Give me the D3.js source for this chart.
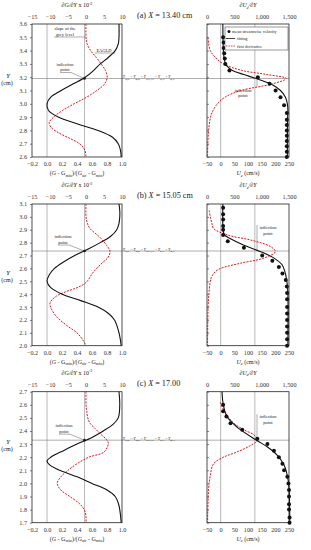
<!DOCTYPE html>
<html>
<head>
<meta charset="utf-8">
<script src="https://cdn.jsdelivr.net/npm/d3@7"></script>
<style>
body { margin: 0; background: #fff; }
text { font-family: "Liberation Serif", "DejaVu Serif", serif; fill: #222; }
</style>
</head>
<body>
<svg id="fig" width="311" height="550"></svg>
<script>
// ---- data ----
const titles = ['(a) X = 13.40 cm', '(b) X = 15.05 cm', '(c) X = 17.00'];
const yDomains = [[2.6, 3.6], [2.0, 3.1], [1.7, 2.7]];
const yTicksA = [2.6, 2.7, 2.8, 2.9, 3.0, 3.1, 3.2, 3.3, 3.4, 3.5, 3.6];
const yTicksB = [2.0, 2.1, 2.2, 2.3, 2.4, 2.5, 2.6, 2.7, 2.8, 2.9, 3.0, 3.1];
const yTicksC = [1.7, 1.8, 1.9, 2.0, 2.1, 2.2, 2.3, 2.4, 2.5, 2.6, 2.7];
const inflections = [3.19, 2.735, 2.33];

const grayTicks = [-0.2, 0.0, 0.2, 0.4, 0.6, 0.8, 1.0];
const slopeTicks = [-15, -10, -5, 0, 5, 10];
const velTicks = [-50, 0, 50, 100, 150, 200, 250];
const dvelTicks = [0, 500, 1000, 1500];

// [Y, normalised grey level]
const grayA = [[3.6, 0.96], [3.5, 0.96], [3.45, 0.95], [3.4, 0.91], [3.35, 0.82], [3.3, 0.71], [3.25, 0.62], [3.2, 0.51], [3.15, 0.35], [3.1, 0.19], [3.05, 0.05], [3.0, 0.0], [2.95, 0.02], [2.9, 0.15], [2.85, 0.4], [2.8, 0.68], [2.75, 0.87], [2.7, 0.95], [2.65, 0.98], [2.6, 0.99]];
const grayB = [[3.1, 0.96], [3.05, 0.97], [3.0, 0.97], [2.95, 0.96], [2.9, 0.93], [2.85, 0.85], [2.8, 0.71], [2.75, 0.55], [2.7, 0.37], [2.65, 0.22], [2.6, 0.1], [2.55, 0.03], [2.5, 0.0], [2.45, 0.05], [2.4, 0.2], [2.35, 0.45], [2.3, 0.68], [2.25, 0.82], [2.2, 0.9], [2.1, 0.96], [2.0, 0.99]];
const grayC = [[2.7, 0.96], [2.6, 0.97], [2.5, 0.95], [2.45, 0.88], [2.4, 0.75], [2.35, 0.6], [2.3, 0.4], [2.25, 0.22], [2.2, 0.05], [2.17, 0.0], [2.14, 0.04], [2.1, 0.17], [2.05, 0.4], [2.0, 0.6], [1.95, 0.8], [1.9, 0.91], [1.85, 0.95], [1.8, 0.97], [1.7, 0.99]];

// [Y, dG/dY x 10^-2]
const slopeA = [[3.6, 0], [3.5, 0], [3.45, 0.3], [3.4, 1.3], [3.35, 2.8], [3.3, 4.2], [3.25, 5.4], [3.2, 5.9], [3.15, 5.2], [3.1, 3], [3.05, 0.2], [3.0, -3.3], [2.95, -6.5], [2.9, -9], [2.86, -10.2], [2.82, -9.6], [2.78, -7.5], [2.74, -4.5], [2.7, -1.8], [2.65, -0.3], [2.6, 0]];
const slopeB = [[3.1, 0], [3.0, 0], [2.95, 0.4], [2.91, 1.1], [2.84, 3.9], [2.78, 5.7], [2.73, 6.7], [2.68, 6], [2.65, 4.8], [2.57, 2], [2.49, 0], [2.45, -2.5], [2.42, -5.5], [2.38, -8.5], [2.33, -10], [2.28, -9.5], [2.22, -8], [2.15, -5], [2.1, -2.5], [2.05, -1], [2.0, 0]];
const slopeC = [[2.7, 0], [2.6, 0], [2.55, 0.2], [2.5, 0.5], [2.46, 1.1], [2.42, 2.5], [2.38, 3.9], [2.34, 5.5], [2.31, 6.2], [2.27, 5.8], [2.235, 4.8], [2.2, 0.8], [2.15, -2.5], [2.1, -5], [2.05, -7], [2.0, -8], [1.95, -7], [1.9, -4.5], [1.85, -2], [1.8, -0.5], [1.75, 0], [1.7, 0]];

// [Y, mean streamwise velocity cm/s]
const velA = [[3.5, 9], [3.46, 11], [3.42, 11], [3.38, 13], [3.34, 15], [3.3, 17], [3.25, 32], [3.2, 136], [3.15, 179], [3.1, 201], [3.05, 219], [2.99, 232], [2.93, 242], [2.88, 242], [2.84, 242], [2.8, 242], [2.76, 242], [2.72, 242], [2.68, 242], [2.64, 242], [2.6, 242]];
const velB = [[3.07, 9], [3.02, 9], [2.98, 9], [2.93, 9], [2.9, 9], [2.86, 9], [2.81, 26], [2.76, 85], [2.7, 152], [2.66, 189], [2.61, 213], [2.56, 226], [2.51, 238], [2.46, 242], [2.41, 243], [2.36, 243], [2.3, 243], [2.25, 243], [2.2, 243], [2.15, 243], [2.1, 243], [2.05, 243], [2.0, 243]];
const velC = [[2.6, 9], [2.55, 9], [2.51, 21], [2.46, 36], [2.41, 79], [2.34, 134], [2.3, 171], [2.25, 195], [2.2, 213], [2.15, 226], [2.1, 232], [2.05, 244], [2.0, 248], [1.95, 250], [1.9, 250], [1.84, 250], [1.8, 250], [1.74, 252], [1.7, 252]];

// [Y, fitted velocity]
const fitA = [[3.6, 8], [3.45, 9], [3.35, 12], [3.3, 18], [3.27, 30], [3.25, 43], [3.22, 85], [3.19, 130], [3.16, 170], [3.14, 192], [3.1, 219], [3.05, 237], [3.0, 244], [2.95, 246], [2.9, 245], [2.6, 244]];
const fitB = [[3.1, 8], [2.9, 9], [2.86, 14], [2.83, 36], [2.78, 85], [2.73, 146], [2.68, 195], [2.63, 224], [2.55, 238], [2.47, 244], [2.4, 246], [2.0, 246]];
const fitC = [[2.7, 5], [2.61, 9], [2.51, 23], [2.43, 60], [2.33, 131], [2.28, 170], [2.22, 205], [2.14, 232], [2.06, 244], [1.97, 250], [1.85, 252], [1.7, 253]];

// [Y, dUe/dY]
const dvelA = [[3.5, 20], [3.45, 30], [3.4, 60], [3.35, 150], [3.3, 300], [3.25, 650], [3.22, 1100], [3.19, 1450], [3.15, 1200], [3.1, 620], [3.05, 330], [3.0, 190], [2.95, 110], [2.9, 65], [2.8, 30], [2.7, 15], [2.6, 10]];
const dvelB = [[3.05, 40], [3.0, 60], [2.95, 90], [2.91, 120], [2.86, 370], [2.82, 800], [2.77, 1160], [2.73, 1250], [2.68, 1040], [2.64, 610], [2.59, 200], [2.54, 90], [2.5, 60], [2.4, 35], [2.3, 20], [2.0, 10]];
const dvelC = [[2.62, 240], [2.535, 340], [2.46, 490], [2.41, 670], [2.37, 860], [2.33, 920], [2.29, 800], [2.24, 550], [2.2, 300], [2.15, 120], [2.06, 60], [1.96, 30], [1.7, 10]];

// ---- layout ----
const svg = d3.select('#fig');
const leftX = [32, 122];
const rightX = [207, 289];
const rowY = [[24, 157], [204, 345.7], [391.7, 522.7]];
const yLabelPos = [78, 275, 444];
const red = '#e0141e';

const rows = [
    { title: titles[0], yTicks: yTicksA, gray: grayA, slope: slopeA, vel: velA, fit: fitA, dvel: dvelA },
    { title: titles[1], yTicks: yTicksB, gray: grayB, slope: slopeB, vel: velB, fit: fitB, dvel: dvelB },
    { title: titles[2], yTicks: yTicksC, gray: grayC, slope: slopeC, vel: velC, fit: fitC, dvel: dvelC },
];

function styleAxis(g, size) {
    g.select('.domain').remove();
    g.selectAll('line').attr('stroke', '#333').attr('stroke-width', 0.6);
    g.selectAll('text').attr('font-size', size).style('fill', '#333');
}

function supText(sel, parts) {
    // parts: [text, baseline-shift ('sub'|'sup'|null), italic]
    parts.forEach(([t, shift, it]) => {
        const ts = sel.append('tspan').text(t);
        if (shift === 'sub') ts.attr('dy', 1.5).attr('font-size', '0.7em');
        if (shift === 'sup') ts.attr('dy', -2.5).attr('font-size', '0.7em');
        if (shift === 'back') ts.attr('dy', -1.5);
        if (shift === 'down') ts.attr('dy', 2.5);
        if (it) ts.attr('font-style', 'italic');
    });
}

rows.forEach((row, i) => {
    const [top, bottom] = rowY[i];
    const y = d3.scaleLinear().domain(yDomains[i]).range([bottom, top]);
    const xGray = d3.scaleLinear().domain([-0.2, 1.0]).range(leftX);
    const xSlope = d3.scaleLinear().domain([-15, 10]).range(leftX);
    const xVel = d3.scaleLinear().domain([-50, 250]).range(rightX);
    const xDvel = d3.scaleLinear().domain([0, 1500]).range(rightX);
    const yInf = y(inflections[i]);

    const g = svg.append('g');

    // grid lines
    g.selectAll('.gl').data([0, 0.5]).enter().append('line')
        .attr('x1', (d) => xGray(d)).attr('x2', (d) => xGray(d))
        .attr('y1', top).attr('y2', bottom)
        .attr('stroke', '#888').attr('stroke-width', 0.6);
    g.selectAll('.gr').data([0, 125]).enter().append('line')
        .attr('x1', (d) => xVel(d)).attr('x2', (d) => xVel(d))
        .attr('y1', top).attr('y2', bottom)
        .attr('stroke', '#888').attr('stroke-width', 0.6);

    // inflection line across both panels
    g.append('line')
        .attr('x1', leftX[0]).attr('x2', rightX[1])
        .attr('y1', yInf).attr('y2', yInf)
        .attr('stroke', '#777').attr('stroke-width', 0.6);

    // frames
    [leftX, rightX].forEach((xr) => {
        g.append('rect')
            .attr('x', xr[0]).attr('y', top)
            .attr('width', xr[1] - xr[0]).attr('height', bottom - top)
            .attr('fill', 'none').attr('stroke', '#222').attr('stroke-width', 0.8);
    });

    // axes
    g.append('g').attr('transform', `translate(${leftX[0]},0)`)
        .call(d3.axisLeft(y).tickValues(row.yTicks).tickFormat(d3.format('.1f')).tickSize(2).tickPadding(3))
        .call(styleAxis, 6.2);
    g.append('g').attr('transform', `translate(${rightX[0]},0)`)
        .call(d3.axisRight(y).tickValues(row.yTicks).tickFormat('').tickSize(2))
        .call(styleAxis, 6);
    g.append('g').attr('transform', `translate(0,${bottom})`)
        .call(d3.axisBottom(xGray).tickValues(grayTicks).tickFormat(d3.format('.1f')).tickSize(0).tickPadding(5))
        .call(styleAxis, 6.2);
    g.append('g').attr('transform', `translate(0,${top})`)
        .call(d3.axisTop(xSlope).tickValues(slopeTicks).tickSize(0).tickPadding(5))
        .call(styleAxis, 6.2);
    g.append('g').attr('transform', `translate(0,${bottom})`)
        .call(d3.axisBottom(xVel).tickValues(velTicks).tickSize(0).tickPadding(5))
        .call(styleAxis, 6.2);
    g.append('g').attr('transform', `translate(0,${top})`)
        .call(d3.axisTop(xDvel).tickValues(dvelTicks).tickFormat(d3.format(',')).tickSize(0).tickPadding(5))
        .call(styleAxis, 6.2);

    // curves
    const lineGray = d3.line().x((d) => xGray(d[1])).y((d) => y(d[0])).curve(d3.curveCatmullRom);
    const lineSlope = d3.line().x((d) => xSlope(d[1])).y((d) => y(d[0])).curve(d3.curveCatmullRom);
    const lineFit = d3.line().x((d) => xVel(d[1])).y((d) => y(d[0])).curve(d3.curveCatmullRom);
    const lineDvel = d3.line().x((d) => xDvel(d[1])).y((d) => y(d[0])).curve(d3.curveCatmullRom);

    g.append('path').attr('d', lineSlope(row.slope))
        .attr('fill', 'none').attr('stroke', red).attr('stroke-width', 1).attr('stroke-dasharray', '2,1.2');
    g.append('path').attr('d', lineGray(row.gray))
        .attr('fill', 'none').attr('stroke', '#111').attr('stroke-width', 1.1);
    g.append('path').attr('d', lineDvel(row.dvel))
        .attr('fill', 'none').attr('stroke', red).attr('stroke-width', 1).attr('stroke-dasharray', '2,1.2');
    g.append('path').attr('d', lineFit(row.fit))
        .attr('fill', 'none').attr('stroke', '#111').attr('stroke-width', 1.1);
    g.selectAll('.pt').data(row.vel).enter().append('circle')
        .attr('cx', (d) => xVel(d[1])).attr('cy', (d) => y(d[0]))
        .attr('r', 2).attr('fill', '#111');

    // inflection dot on grey curve
    g.append('circle').attr('cx', xGray(0.5)).attr('cy', yInf).attr('r', 1.3).attr('fill', '#111');

    // labels
    const topTitle = g.append('text').attr('x', 77).attr('y', top - 17)
        .attr('text-anchor', 'middle').attr('font-size', 6);
    supText(topTitle, [['\u2202', null, true], ['G', null, true], ['/\u2202', null, true], ['Y', null, true], [' x 10', null, false], ['-2', 'sup', false]]);

    const rTitle = g.append('text').attr('x', 248).attr('y', top - 17)
        .attr('text-anchor', 'middle').attr('font-size', 6);
    supText(rTitle, [['\u2202U', null, true], ['e', 'sub', true], ['/\u2202Y', 'back', true]]);

    g.append('text').attr('x', 137).attr('y', top - 6).attr('font-size', 8.2)
        .text(row.title.replace(' X', ' ')).each(function () {})
        .html(row.title.replace('X', '<tspan font-style="italic">X</tspan>'));

    const bTitle = g.append('text').attr('x', 77).attr('y', bottom + 18)
        .attr('text-anchor', 'middle').attr('font-size', 6);
    supText(bTitle, [['(', null, false], ['G', null, true], [' - G', null, false], ['min', 'sub', false], [')/(', 'back', false], ['G', null, true], ['air', 'sub', false], [' - G', 'back', false], ['min', 'sub', false], [')', 'back', false]]);

    const uTitle = g.append('text').attr('x', 248).attr('y', bottom + 18)
        .attr('text-anchor', 'middle').attr('font-size', 6);
    supText(uTitle, [['U', null, true], ['e', 'sub', true], [' (cm/s)', 'back', false]]);

    const yl = g.append('text').attr('x', 8).attr('y', yLabelPos[i]).attr('text-anchor', 'middle').attr('font-size', 6.5);
    yl.append('tspan').attr('font-style', 'italic').text('Y');
    g.append('text').attr('x', 7).attr('y', yLabelPos[i] + 7).attr('text-anchor', 'middle').attr('font-size', 6).text('(cm)');

    // equality text between panels
    const eq = g.append('text').attr('x', 123).attr('y', yInf - 0.5).attr('font-size', 3.6);
    supText(eq, [['Y', null, true], ['in,gl', 'sub', false], [' = ', 'back', false], ['Y', null, true], ['m,gl', 'sub', false], [' = ', 'back', false], ['Y', null, true], ['99%,vel', 'sub', false], [' = ', 'back', false], ['Y', null, true], ['in,vl', 'sub', false], [' = ', 'back', false], ['Y', null, true], ['m,vl', 'sub', false]]);

    // inflection annotations
    const annL = [[65, yInf - 13], [63, yInf - 13], [64, yInf - 13]][i];
    g.append('text').attr('x', annL[0]).attr('y', annL[1]).attr('text-anchor', 'middle').attr('font-size', 4.5).text('inflection');
    g.append('text').attr('x', annL[0]).attr('y', annL[1] + 5.5).attr('text-anchor', 'middle').attr('font-size', 4.5).text('point');
    g.append('line').attr('x1', annL[0] - 5).attr('x2', annL[0] + 6).attr('y1', annL[1] + 7).attr('y2', annL[1] + 7)
        .attr('stroke', '#333').attr('stroke-width', 0.4);
    g.append('line').attr('x1', annL[0] + 6).attr('x2', xGray(0.5)).attr('y1', annL[1] + 7).attr('y2', yInf)
        .attr('stroke', '#333').attr('stroke-width', 0.4);

    const annR = [[243, yInf + 13], [268, yInf - 22], [268, yInf - 22]][i];
    g.append('text').attr('x', annR[0]).attr('y', annR[1]).attr('text-anchor', 'middle').attr('font-size', 4.5).text('inflection');
    g.append('text').attr('x', annR[0]).attr('y', annR[1] + 5.5).attr('text-anchor', 'middle').attr('font-size', 4.5).text('point');
    g.append('line').attr('x1', 257).attr('x2', 257)
        .attr('y1', i === 0 ? annR[1] - 5 : annR[1] - 4).attr('y2', yInf)
        .attr('stroke', '#333').attr('stroke-width', 0.4);
});

// panel (a) extra notes
svg.append('text').attr('x', 65).attr('y', 30).attr('text-anchor', 'middle').attr('font-size', 4.5).text('slope of the');
svg.append('text').attr('x', 65).attr('y', 35.5).attr('text-anchor', 'middle').attr('font-size', 4.5).text('grey level');
svg.append('line').attr('x1', 54).attr('x2', 86).attr('y1', 37).attr('y2', 37).attr('stroke', '#333').attr('stroke-width', 0.4);
svg.append('text').attr('x', 104).attr('y', 51.5).attr('text-anchor', 'middle').attr('font-size', 4.5).text('EAGLD');
svg.append('line').attr('x1', 95).attr('x2', 115).attr('y1', 53).attr('y2', 53).attr('stroke', '#333').attr('stroke-width', 0.4);

// legend in (a) right
const leg = svg.append('g');
leg.append('rect').attr('x', 225).attr('y', 27).attr('width', 63).attr('height', 23)
    .attr('fill', '#fff').attr('stroke', '#333').attr('stroke-width', 0.5);
leg.append('circle').attr('cx', 229).attr('cy', 31.5).attr('r', 1.5).attr('fill', '#111');
leg.append('text').attr('x', 232).attr('y', 33).attr('font-size', 4.3).text('mean streamwise velocity');
leg.append('line').attr('x1', 226).attr('x2', 235).attr('y1', 38.5).attr('y2', 38.5).attr('stroke', '#111').attr('stroke-width', 0.8);
leg.append('text').attr('x', 237).attr('y', 40).attr('font-size', 4.3).text('fitting');
leg.append('line').attr('x1', 226).attr('x2', 235).attr('y1', 46).attr('y2', 46).attr('stroke', red).attr('stroke-width', 0.8).attr('stroke-dasharray', '1.5,1');
leg.append('text').attr('x', 237).attr('y', 47.5).attr('font-size', 4.3).text('first derivative');
</script>
</body>
</html>
